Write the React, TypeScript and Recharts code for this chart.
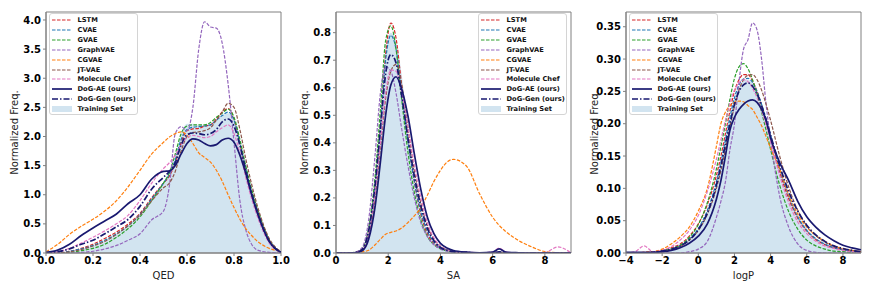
import React from 'react';
import { ComposedChart, Line, Area, XAxis, YAxis, ReferenceArea } from 'recharts';

const FONT = '"DejaVu Sans", Verdana, sans-serif';

// ---- QED panel ----
const qedX = [0, 0.05, 0.1, 0.15, 0.2, 0.25, 0.3, 0.35, 0.4, 0.45, 0.5, 0.525, 0.55, 0.575, 0.6, 0.625, 0.65, 0.675, 0.7, 0.725, 0.75, 0.775, 0.8, 0.825, 0.85, 0.875, 0.9, 0.95, 1.0];
const qedLstm = [0, 0, 0.03, 0.08, 0.15, 0.25, 0.36, 0.5, 0.68, 0.95, 1.2, 1.32, 1.55, 1.9, 2.1, 2.13, 2.14, 2.18, 2.2, 2.3, 2.42, 2.48, 2.3, 1.88, 1.42, 1.02, 0.7, 0.2, 0.01];
const qedCvae = [0, 0, 0.03, 0.07, 0.13, 0.22, 0.33, 0.47, 0.66, 0.93, 1.2, 1.35, 1.6, 1.95, 2.12, 2.16, 2.17, 2.18, 2.2, 2.28, 2.36, 2.42, 2.28, 1.9, 1.45, 1.05, 0.72, 0.21, 0.01];
const qedGvae = [0, 0, 0.01, 0.04, 0.08, 0.15, 0.27, 0.42, 0.62, 0.9, 1.2, 1.38, 1.7, 2.05, 2.18, 2.2, 2.2, 2.2, 2.24, 2.33, 2.4, 2.47, 2.33, 1.95, 1.5, 1.1, 0.76, 0.23, 0.01];
const qedGraph = [0, 0, 0, 0.01, 0.03, 0.07, 0.13, 0.22, 0.33, 0.57, 0.72, 1.15, 2.05, 2.17, 2.1, 2.5, 3.5, 3.97, 3.88, 3.86, 3.6, 2.9, 1.9, 0.9, 0.4, 0.15, 0.05, 0.01, 0];
const qedCgvae = [0.02, 0.15, 0.32, 0.46, 0.58, 0.72, 0.9, 1.14, 1.42, 1.7, 1.9, 1.99, 2.05, 2.08, 2.02, 1.88, 1.72, 1.64, 1.56, 1.42, 1.23, 1.0, 0.78, 0.58, 0.42, 0.3, 0.2, 0.08, 0.03];
const qedJt = [0, 0, 0.02, 0.06, 0.12, 0.2, 0.32, 0.47, 0.65, 0.9, 1.12, 1.2, 1.4, 1.75, 2.0, 2.07, 2.08, 2.1, 2.15, 2.28, 2.42, 2.57, 2.5, 2.12, 1.62, 1.18, 0.8, 0.25, 0.02];
const qedChef = [0, 0.02, 0.08, 0.17, 0.27, 0.38, 0.5, 0.65, 0.9, 1.2, 1.45, 1.55, 1.68, 1.85, 1.98, 2.02, 2.0, 1.98, 2.0, 2.08, 2.15, 2.2, 2.05, 1.72, 1.3, 0.93, 0.62, 0.17, 0.01];
const qedDogAe = [0.01, 0.05, 0.15, 0.3, 0.43, 0.55, 0.67, 0.85, 1.0, 1.27, 1.4, 1.41, 1.5, 1.7, 1.88, 1.96, 1.94, 1.88, 1.84, 1.86, 1.94, 1.97, 1.9, 1.68, 1.37, 1.0, 0.68, 0.2, 0.01];
const qedDogGen = [0, 0.02, 0.07, 0.15, 0.22, 0.33, 0.45, 0.58, 0.8, 1.1, 1.3, 1.4, 1.55, 1.85, 2.03, 2.06, 2.05, 2.03, 2.05, 2.12, 2.25, 2.3, 2.18, 1.85, 1.42, 1.03, 0.7, 0.2, 0.01];
const qedTrain = [0, 0, 0.03, 0.07, 0.13, 0.22, 0.34, 0.48, 0.68, 0.95, 1.22, 1.38, 1.65, 2.05, 2.22, 2.22, 2.2, 2.2, 2.22, 2.28, 2.36, 2.4, 2.28, 1.9, 1.45, 1.05, 0.72, 0.21, 0];
const qedXTicks = [0, 0.2, 0.4, 0.6, 0.8, 1.0];
const qedYTicks = [0, 0.5, 1, 1.5, 2, 2.5, 3, 3.5, 4];

// ---- SA panel ----
const saX = [0, 0.5, 0.75, 1, 1.25, 1.5, 1.7, 1.9, 2.1, 2.3, 2.5, 2.75, 3, 3.25, 3.5, 3.75, 4, 4.25, 4.5, 5, 5.5, 6, 6.25, 6.5, 7, 7.5, 8, 8.5, 9];
const saLstm = [0, 0, 0.002, 0.01, 0.08, 0.24, 0.46, 0.72, 0.835, 0.78, 0.62, 0.42, 0.26, 0.14, 0.07, 0.035, 0.018, 0.01, 0.005, 0.002, 0, 0.001, 0.003, 0, 0, 0, 0, 0, 0];
const saCvae = [0, 0, 0.002, 0.012, 0.08, 0.24, 0.46, 0.7, 0.79, 0.74, 0.6, 0.41, 0.26, 0.15, 0.08, 0.04, 0.02, 0.01, 0.005, 0.002, 0.001, 0.001, 0.002, 0, 0, 0, 0, 0, 0];
const saGvae = [0, 0, 0.003, 0.015, 0.09, 0.28, 0.52, 0.77, 0.825, 0.74, 0.57, 0.37, 0.22, 0.12, 0.06, 0.03, 0.015, 0.008, 0.004, 0.001, 0, 0, 0.002, 0, 0, 0, 0, 0, 0];
const saGraph = [0, 0, 0.004, 0.02, 0.12, 0.36, 0.58, 0.675, 0.66, 0.58, 0.46, 0.32, 0.2, 0.11, 0.06, 0.03, 0.015, 0.007, 0.003, 0.001, 0, 0, 0, 0, 0, 0, 0, 0, 0];
const saCgvae = [0, 0, 0.001, 0.004, 0.01, 0.03, 0.05, 0.068, 0.075, 0.08, 0.09, 0.11, 0.135, 0.165, 0.21, 0.26, 0.3, 0.33, 0.34, 0.315, 0.215, 0.13, 0.1, 0.078, 0.045, 0.022, 0.005, 0.001, 0];
const saJt = [0, 0, 0.002, 0.008, 0.06, 0.2, 0.38, 0.56, 0.66, 0.685, 0.62, 0.46, 0.3, 0.18, 0.1, 0.05, 0.025, 0.012, 0.006, 0.002, 0, 0, 0.002, 0, 0, 0, 0, 0, 0];
const saChef = [0, 0, 0.002, 0.01, 0.07, 0.22, 0.4, 0.58, 0.665, 0.66, 0.59, 0.46, 0.32, 0.2, 0.11, 0.055, 0.025, 0.012, 0.006, 0.003, 0.001, 0.004, 0.018, 0.004, 0, 0, 0.002, 0.022, 0];
const saDogAe = [0, 0, 0.001, 0.008, 0.05, 0.17, 0.33, 0.5, 0.61, 0.64, 0.6, 0.5, 0.36, 0.23, 0.13, 0.07, 0.035, 0.018, 0.009, 0.003, 0.001, 0.003, 0.015, 0.003, 0.001, 0, 0, 0, 0];
const saDogGen = [0, 0, 0.002, 0.012, 0.08, 0.25, 0.45, 0.65, 0.72, 0.69, 0.58, 0.42, 0.28, 0.17, 0.09, 0.045, 0.02, 0.01, 0.005, 0.002, 0, 0.001, 0.004, 0.001, 0, 0, 0, 0, 0];
const saTrain = [0, 0, 0.002, 0.012, 0.08, 0.25, 0.48, 0.74, 0.8, 0.77, 0.66, 0.45, 0.28, 0.16, 0.08, 0.04, 0.02, 0.01, 0.005, 0.002, 0, 0, 0, 0, 0, 0, 0, 0, 0];
const saXTicks = [0, 2, 4, 6, 8];
const saYTicks = [0, 0.1, 0.2, 0.3, 0.4, 0.5, 0.6, 0.7, 0.8];

// ---- logP panel ----
const lpX = [-4, -3.5, -3, -2.5, -2, -1.5, -1, -0.5, 0, 0.5, 1, 1.25, 1.5, 1.75, 2, 2.25, 2.5, 2.75, 3, 3.25, 3.5, 3.75, 4, 4.5, 5, 5.5, 6, 6.5, 7, 7.5, 8, 8.5, 9];
const lpLstm = [0, 0, 0.001, 0.002, 0.004, 0.008, 0.014, 0.026, 0.045, 0.075, 0.12, 0.15, 0.185, 0.22, 0.25, 0.268, 0.276, 0.276, 0.266, 0.25, 0.228, 0.203, 0.176, 0.125, 0.084, 0.054, 0.034, 0.021, 0.013, 0.008, 0.005, 0.003, 0.002];
const lpCvae = [0, 0, 0, 0.001, 0.003, 0.006, 0.012, 0.022, 0.038, 0.066, 0.11, 0.14, 0.175, 0.21, 0.24, 0.26, 0.269, 0.27, 0.264, 0.25, 0.23, 0.207, 0.182, 0.13, 0.088, 0.056, 0.035, 0.022, 0.014, 0.008, 0.005, 0.003, 0.002];
const lpGvae = [0, 0, 0, 0.001, 0.003, 0.006, 0.012, 0.024, 0.044, 0.078, 0.13, 0.165, 0.2, 0.238, 0.27, 0.288, 0.293, 0.285, 0.268, 0.245, 0.218, 0.19, 0.16, 0.105, 0.064, 0.037, 0.02, 0.011, 0.006, 0.003, 0.002, 0.001, 0];
const lpGraph = [0, 0, 0, 0, 0, 0, 0, 0.002, 0.006, 0.018, 0.055, 0.08, 0.11, 0.16, 0.2, 0.265, 0.315, 0.33, 0.356, 0.345, 0.3, 0.23, 0.175, 0.088, 0.04, 0.014, 0.004, 0.001, 0, 0, 0, 0, 0];
const lpCgvae = [0, 0, 0.001, 0.002, 0.006, 0.014, 0.025, 0.04, 0.065, 0.1, 0.165, 0.2, 0.218, 0.228, 0.233, 0.235, 0.234, 0.228, 0.222, 0.21, 0.197, 0.18, 0.162, 0.13, 0.09, 0.06, 0.04, 0.027, 0.018, 0.011, 0.007, 0.004, 0.002];
const lpJt = [0, 0, 0, 0.001, 0.002, 0.005, 0.01, 0.02, 0.035, 0.06, 0.1, 0.128, 0.16, 0.195, 0.227, 0.252, 0.268, 0.275, 0.276, 0.268, 0.252, 0.23, 0.205, 0.15, 0.102, 0.066, 0.042, 0.027, 0.017, 0.01, 0.006, 0.004, 0.002];
const lpChef = [0, 0.002, 0.011, 0.002, 0.004, 0.01, 0.02, 0.035, 0.058, 0.095, 0.145, 0.175, 0.205, 0.232, 0.252, 0.263, 0.268, 0.265, 0.255, 0.24, 0.22, 0.198, 0.173, 0.12, 0.078, 0.048, 0.03, 0.018, 0.011, 0.007, 0.004, 0.002, 0.001];
const lpDogAe = [0.001, 0.001, 0.001, 0.001, 0.002, 0.004, 0.008, 0.015, 0.026, 0.045, 0.083, 0.112, 0.15, 0.19, 0.21, 0.222, 0.23, 0.235, 0.237, 0.233, 0.222, 0.205, 0.178, 0.14, 0.112, 0.08, 0.056, 0.04, 0.028, 0.019, 0.012, 0.008, 0.005];
const lpDogGen = [0, 0, 0, 0.001, 0.003, 0.006, 0.011, 0.02, 0.036, 0.062, 0.105, 0.135, 0.168, 0.2, 0.23, 0.25, 0.26, 0.263, 0.258, 0.246, 0.228, 0.206, 0.182, 0.135, 0.095, 0.065, 0.043, 0.028, 0.018, 0.011, 0.007, 0.004, 0.002];
const lpTrain = [0, 0, 0, 0.001, 0.003, 0.006, 0.012, 0.022, 0.038, 0.065, 0.11, 0.14, 0.175, 0.21, 0.24, 0.258, 0.267, 0.268, 0.263, 0.25, 0.232, 0.21, 0.185, 0.135, 0.092, 0.06, 0.038, 0.024, 0.015, 0.009, 0.005, 0.003, 0.002];
const lpXTicks = [-4, -2, 0, 2, 4, 6, 8];
const lpYTicks = [0, 0.05, 0.1, 0.15, 0.2, 0.25, 0.3, 0.35];

interface SeriesStyle {
  key: string;
  name: string;
  color: string;
  dash?: string;
  width: number;
}

const SERIES: SeriesStyle[] = [
  { key: 'lstm', name: 'LSTM', color: '#d62728', dash: '3.5 1.5', width: 1.2 },
  { key: 'cvae', name: 'CVAE', color: '#1f77b4', dash: '3.5 1.5', width: 1.2 },
  { key: 'gvae', name: 'GVAE', color: '#2ca02c', dash: '3.5 1.5', width: 1.2 },
  { key: 'graphvae', name: 'GraphVAE', color: '#9467bd', dash: '3.5 1.5', width: 1.2 },
  { key: 'cgvae', name: 'CGVAE', color: '#ff7f0e', dash: '3.5 1.5', width: 1.2 },
  { key: 'jtvae', name: 'JT-VAE', color: '#8c564b', dash: '3.5 1.5', width: 1.2 },
  { key: 'chef', name: 'Molecule Chef', color: '#e377c2', dash: '3.5 1.5', width: 1.2 },
  { key: 'dogae', name: 'DoG-AE (ours)', color: '#191970', width: 1.7 },
  { key: 'doggen', name: 'DoG-Gen (ours)', color: '#191970', dash: '6 2 1.5 2', width: 1.7 },
];

function buildRows(xs: number[], cols: Record<string, number[]>) {
  return xs.map((x, i) => {
    const row: Record<string, number> = { x };
    Object.keys(cols).forEach((k) => {
      row[k] = cols[k][i];
    });
    return row;
  });
}

const qedRows = buildRows(qedX, {
  lstm: qedLstm, cvae: qedCvae, gvae: qedGvae, graphvae: qedGraph, cgvae: qedCgvae,
  jtvae: qedJt, chef: qedChef, dogae: qedDogAe, doggen: qedDogGen, train: qedTrain,
});
const saRows = buildRows(saX, {
  lstm: saLstm, cvae: saCvae, gvae: saGvae, graphvae: saGraph, cgvae: saCgvae,
  jtvae: saJt, chef: saChef, dogae: saDogAe, doggen: saDogGen, train: saTrain,
});
const lpRows = buildRows(lpX, {
  lstm: lpLstm, cvae: lpCvae, gvae: lpGvae, graphvae: lpGraph, cgvae: lpCgvae,
  jtvae: lpJt, chef: lpChef, dogae: lpDogAe, doggen: lpDogGen, train: lpTrain,
});

const minus = (v: number) => String(v).replace('-', '\u2212');

function LegendBox({ left }: { left: number }) {
  return (
    <div
      style={{
        position: 'absolute', left, top: 13, width: 89, height: 102, boxSizing: 'border-box',
        border: '1px solid #d4d4d4', borderRadius: 3, background: 'rgba(255,255,255,0.85)',
        paddingTop: 1.5, fontFamily: FONT, fontSize: 6.7, fontWeight: 'bold', color: '#111',
      }}
    >
      {[...SERIES, null].map((s, i) => (
        <div key={i} style={{ height: 9.85, display: 'flex', alignItems: 'center', whiteSpace: 'nowrap' }}>
          <svg width={20} height={8} style={{ marginLeft: 2, marginRight: 5.5, flex: 'none' }}>
            {s ? (
              <line x1={0} y1={4} x2={20} y2={4} stroke={s.color} strokeWidth={s.width} strokeDasharray={s.dash} />
            ) : (
              <rect x={0} y={1} width={20} height={6} fill="#1f77b4" fillOpacity={0.2} />
            )}
          </svg>
          <span>{s ? s.name : 'Training Set'}</span>
        </div>
      ))}
    </div>
  );
}

interface PanelProps {
  left: number;
  rows: Record<string, number>[];
  xDomain: [number, number];
  xTicks: number[];
  xFmt: (v: number) => string;
  yDomain: [number, number];
  yTicks: number[];
  yFmt: (v: number) => string;
  xLabel: string;
  legendLeft: number;
}

function Panel({ left, rows, xDomain, xTicks, xFmt, yDomain, yTicks, yFmt, xLabel, legendLeft }: PanelProps) {
  const tickStyle = { fill: '#000', fontSize: 10, fontWeight: 'bold', fontFamily: FONT };
  return (
    <div style={{ position: 'absolute', left, top: 0, width: 290, height: 291 }}>
      <ComposedChart width={290} height={291} data={rows} margin={{ top: 12, right: 9, bottom: 8, left: 0 }}>
        <XAxis
          dataKey="x" type="number" domain={xDomain} ticks={xTicks} tickFormatter={xFmt}
          allowDataOverflow interval={0} height={30} tick={tickStyle} tickSize={3} tickMargin={1}
          stroke="#808080"
          label={{ value: xLabel, position: 'insideBottom', offset: 4, fill: '#222', fontSize: 10, fontFamily: FONT }}
        />
        <YAxis
          type="number" domain={yDomain} ticks={yTicks} tickFormatter={yFmt}
          allowDataOverflow interval={0} width={46} tick={tickStyle} tickSize={3} tickMargin={2}
          stroke="#808080"
          label={{
            value: 'Normalized Freq.', angle: -90, position: 'insideLeft', offset: 14,
            fill: '#222', fontSize: 10, fontFamily: FONT, style: { textAnchor: 'middle' },
          }}
        />
        <Area type="monotone" dataKey="train" fill="#1f77b4" fillOpacity={0.2} stroke="none" isAnimationActive={false} />
        {SERIES.map((s) => (
          <Line
            key={s.key} type="monotone" dataKey={s.key} stroke={s.color} strokeWidth={s.width}
            strokeDasharray={s.dash} dot={false} activeDot={false} isAnimationActive={false}
          />
        ))}
        <ReferenceArea x1={xDomain[0]} x2={xDomain[1]} y1={yDomain[0]} y2={yDomain[1]} fill="none" stroke="#808080" strokeWidth={1} />
      </ComposedChart>
      <LegendBox left={legendLeft} />
    </div>
  );
}

export default function App() {
  return (
    <div style={{ position: 'absolute', left: 0, top: 0, width: 872, height: 291, background: '#fff', overflow: 'hidden' }}>
      <Panel
        left={0} rows={qedRows} xDomain={[0, 1]} xTicks={qedXTicks} xFmt={(v) => v.toFixed(1)}
        yDomain={[0, 4.137]} yTicks={qedYTicks} yFmt={(v) => v.toFixed(1)} xLabel="QED" legendLeft={49}
      />
      <Panel
        left={290} rows={saRows} xDomain={[0, 9]} xTicks={saXTicks} xFmt={(v) => String(v)}
        yDomain={[0, 0.875]} yTicks={saYTicks} yFmt={(v) => v.toFixed(1)} xLabel="SA" legendLeft={188}
      />
      <Panel
        left={580} rows={lpRows} xDomain={[-4, 9]} xTicks={lpXTicks} xFmt={minus}
        yDomain={[0, 0.3728]} yTicks={lpYTicks} yFmt={(v) => v.toFixed(2)} xLabel="logP" legendLeft={49}
      />
    </div>
  );
}
